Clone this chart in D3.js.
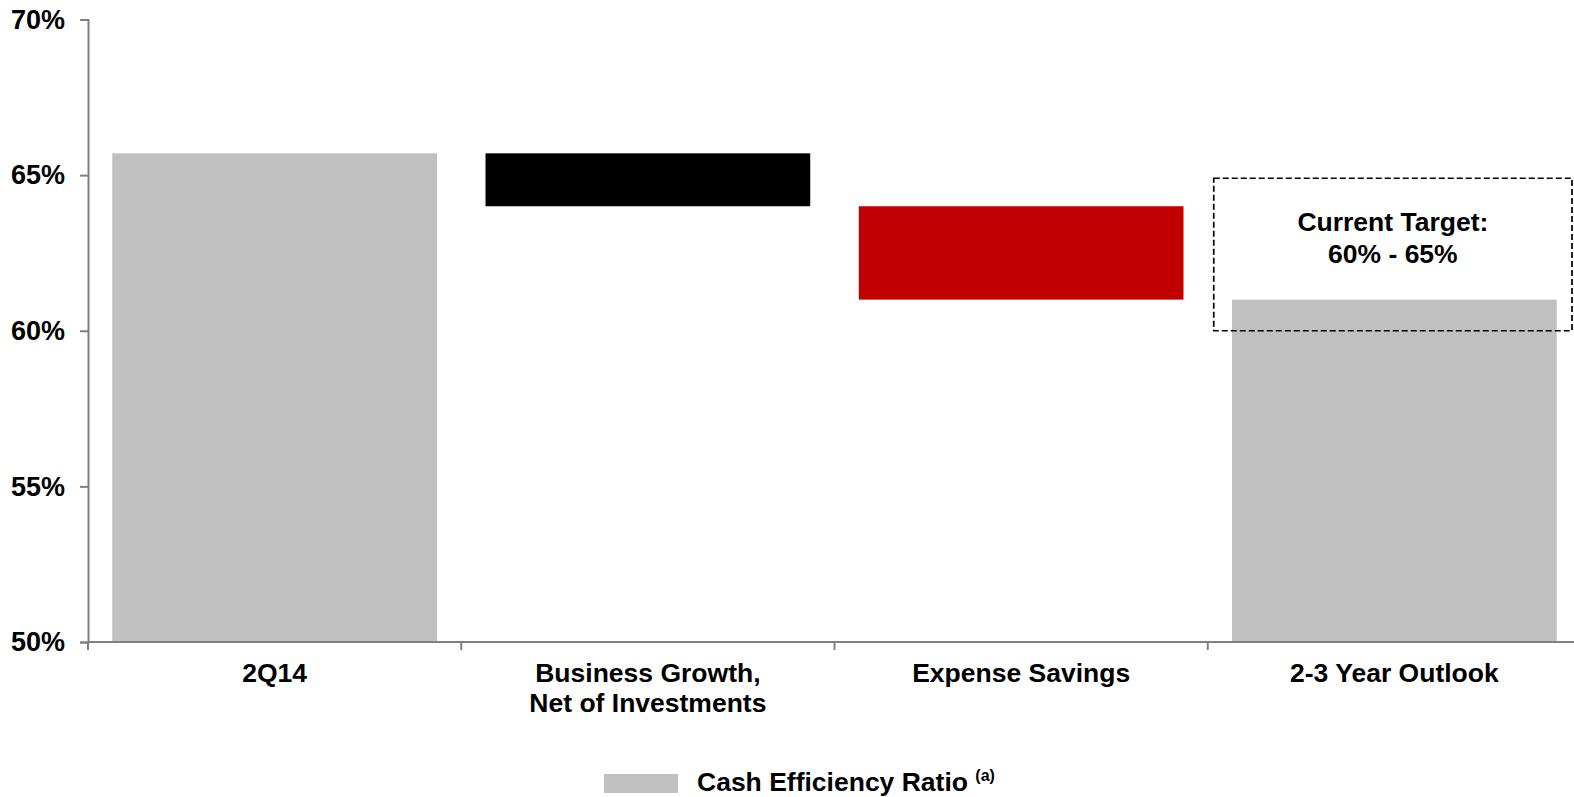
<!DOCTYPE html>
<html>
<head>
<meta charset="utf-8">
<script src="https://cdn.jsdelivr.net/npm/d3@7"></script>
<style>
  body { margin: 0; background: #fff; }
  text { font-family: Arial, "Liberation Sans", sans-serif; font-weight: bold; fill: #000; }
</style>
</head>
<body>
<svg></svg>
<script>
// waterfall data
const categories = ['2Q14', 'Business Growth,\nNet of Investments', 'Expense Savings', '2-3 Year Outlook'];
const barStarts = [50, 65.7, 64.0, 50];
const barEnds = [65.7, 64.0, 61.0, 61.0];
const barColors = ['#c0c0c0', '#000000', '#c00000', '#c0c0c0'];
const yTicks = [50, 55, 60, 65, 70];
const targetRange = [60, 64.9];
const targetLabel = ['Current Target:', '60% - 65%'];
const legendLabel = 'Cash Efficiency Ratio';

const width = 1574;
const height = 797;
const fontSize = '26.5px';
const svg = d3.select('svg')
  .attr('width', width)
  .attr('height', height);

const x = d3.scaleBand()
  .domain(categories)
  .range([88, 1581])
  .paddingInner(0.13)
  .paddingOuter(0.065);

const y = d3.scaleLinear()
  .domain([50, 70])
  .range([642, 19.5]);

// bars
svg.append('g')
  .selectAll('rect')
  .data(categories)
  .enter()
  .append('rect')
  .attr('x', d => x(d))
  .attr('width', x.bandwidth())
  .attr('y', (d, i) => y(Math.max(barStarts[i], barEnds[i])))
  .attr('height', (d, i) => Math.abs(y(barStarts[i]) - y(barEnds[i])))
  .attr('fill', (d, i) => barColors[i]);

// y axis
const yAxis = svg.append('g')
  .attr('transform', 'translate(88,0)')
  .call(d3.axisLeft(y).tickValues(yTicks).tickSize(8).tickPadding(15).tickFormat(d => d + '%'));
yAxis.select('.domain').attr('stroke', '#808080').attr('stroke-width', 2);
yAxis.selectAll('.tick line').attr('stroke', '#808080').attr('stroke-width', 2);
yAxis.selectAll('.tick text')
  .style('font-size', '27px')
  .style('font-family', 'Arial, "Liberation Sans", sans-serif')
  .style('font-weight', 'bold')
  .attr('fill', '#000');

// x axis line with ticks at band edges
const step = x.step();
const edges = categories.map(d => x(d) - x.paddingOuter() * step);
edges.push(edges[edges.length - 1] + step);
svg.append('line')
  .attr('x1', 88).attr('x2', width)
  .attr('y1', y(50)).attr('y2', y(50))
  .attr('stroke', '#808080').attr('stroke-width', 2);
svg.append('g')
  .selectAll('line')
  .data(edges)
  .enter()
  .append('line')
  .attr('x1', d => d).attr('x2', d => d)
  .attr('y1', y(50)).attr('y2', y(50) + 8)
  .attr('stroke', '#808080').attr('stroke-width', 2);

// category labels
const labels = svg.append('g')
  .selectAll('text')
  .data(categories)
  .enter()
  .append('text')
  .attr('text-anchor', 'middle')
  .style('font-size', fontSize);
labels.selectAll('tspan')
  .data(d => d.split('\n').map(t => ({ t, c: d })))
  .enter()
  .append('tspan')
  .attr('x', d => x(d.c) + x.bandwidth() / 2)
  .attr('y', (d, i) => 682 + i * 30)
  .text(d => d.t);

// target box
const lastBand = categories[3];
const boxX0 = x(lastBand) - x.paddingOuter() * step + 6;
const boxX1 = boxX0 + step - 15;
svg.append('rect')
  .attr('x', boxX0)
  .attr('y', y(targetRange[1]))
  .attr('width', boxX1 - boxX0)
  .attr('height', y(targetRange[0]) - y(targetRange[1]))
  .attr('fill', 'none')
  .attr('stroke', '#000')
  .attr('stroke-width', 1.7)
  .attr('stroke-dasharray', '6,3');
svg.append('g')
  .selectAll('text')
  .data(targetLabel)
  .enter()
  .append('text')
  .attr('x', (boxX0 + boxX1) / 2)
  .attr('y', (d, i) => 231 + i * 32)
  .attr('text-anchor', 'middle')
  .style('font-size', fontSize)
  .text(d => d);

// legend
svg.append('rect')
  .attr('x', 604).attr('y', 774)
  .attr('width', 74).attr('height', 19)
  .attr('fill', barColors[0]);
const leg = svg.append('text')
  .attr('x', 697).attr('y', 791)
  .style('font-size', fontSize)
  .text(legendLabel + ' ');
leg.append('tspan')
  .attr('dy', -10)
  .style('font-size', '16px')
  .text('(a)');
</script>
</body>
</html>
